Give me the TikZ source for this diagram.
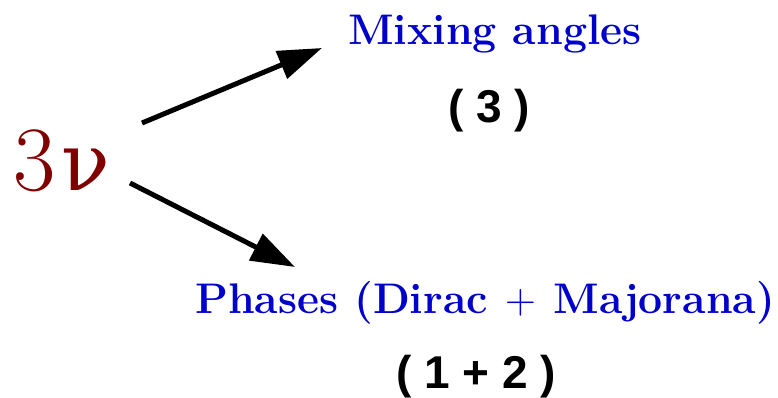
\documentclass[tikz,border=0pt]{standalone}
\usepackage{fontspec}
\usepackage{tikz}
\usetikzlibrary{arrows.meta}
\newfontfamily\countsans{Liberation Sans}
\newfontfamily\greekserif{DejaVu Serif}
\definecolor{NuRed}{HTML}{800000}
\definecolor{HeadBlue}{HTML}{0000CC}

\begin{document}
\begin{tikzpicture}[x=1pt, y=-1pt, every node/.style={inner sep=0pt},
    head/.style={font=\fontsize{42.8}{48}\selectfont\bfseries, color=HeadBlue, anchor=base west},
    count/.style={font=\fontsize{46}{52}\selectfont\countsans\bfseries, anchor=base},
    arrow/.style={line width=5pt, -{Triangle[length=44pt,width=29pt]}}]
  \useasboundingbox (0,0) rectangle (778,398);
  % Neutrinos
  \node[anchor=base west, color=NuRed, font=\fontsize{92}{96}\selectfont] (nu) at (13,190)
    {3\kern6pt{\greekserif\fontsize{80}{96}\selectfont ν}};
  % Upper branch
  \node[head] (mixing) at (348,45) {Mixing angles};
  \node[count] (mixnum) at (489,123) {( 3 )};
  % Lower branch
  \node[head] (phases) at (195,313) {Phases (Dirac\ \kern1.5pt{\mdseries +}\kern1.5pt\ Majorana)};
  \node[count] (phasenum) at (476,388) {( 1 + 2 )};
  % Arrows
  \draw[arrow] ([xshift=129pt,yshift=67pt]nu.base west) -- ([xshift=-26pt,yshift=-3pt]mixing.base west);
  \draw[arrow] ([xshift=117pt,yshift=7pt]nu.base west) -- ([xshift=100pt,yshift=46pt]phases.base west);
\end{tikzpicture}
\end{document}
